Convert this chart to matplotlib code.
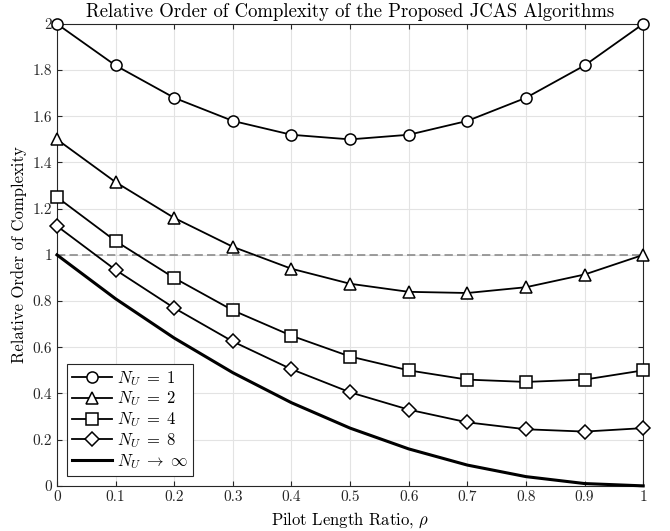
import numpy as np
import matplotlib
matplotlib.use("Agg")
import matplotlib.pyplot as plt

plt.rcParams["font.family"] = ["cmr10", "DejaVu Serif"]
plt.rcParams["mathtext.fontset"] = "cm"
plt.rcParams["axes.unicode_minus"] = False

rho = [0, 0.1, 0.2, 0.3, 0.4, 0.5, 0.6, 0.7, 0.8, 0.9, 1.0]
nu1 = [2.0, 1.82, 1.68, 1.58, 1.52, 1.5, 1.52, 1.58, 1.68, 1.82, 2.0]
nu2 = [1.5, 1.315, 1.16, 1.035, 0.94, 0.875, 0.84, 0.835, 0.86, 0.915, 1.0]
nu4 = [1.25, 1.06, 0.9, 0.76, 0.65, 0.56, 0.5, 0.46, 0.45, 0.46, 0.5]
nu8 = [1.125, 0.935, 0.77, 0.625, 0.505, 0.405, 0.33, 0.275, 0.245, 0.235, 0.25]
nuinf = [1.0, 0.81, 0.64, 0.49, 0.36, 0.25, 0.16, 0.09, 0.04, 0.01, 0.0]

xticks = [0, 0.1, 0.2, 0.3, 0.4, 0.5, 0.6, 0.7, 0.8, 0.9, 1.0]
xticklabels = ["0", "0.1", "0.2", "0.3", "0.4", "0.5", "0.6", "0.7", "0.8", "0.9", "1"]
yticks = [0, 0.2, 0.4, 0.6, 0.8, 1.0, 1.2, 1.4, 1.6, 1.8, 2.0]
yticklabels = ["0", "0.2", "0.4", "0.6", "0.8", "1", "1.2", "1.4", "1.6", "1.8", "2"]

fig = plt.figure(figsize=(6.7, 5.31), dpi=100)
ax = fig.add_axes([0.085, 0.085, 0.875, 0.87])

mk = dict(color="black", lw=1.3, markersize=8, markerfacecolor="white",
          markeredgecolor="black", markeredgewidth=1.1, clip_on=False, zorder=3)
ax.plot(rho, nu1, marker="o", label=r"$N_U\;=\;1$", **mk)
ax.plot(rho, nu2, marker="^", label=r"$N_U\;=\;2$", **mk)
ax.plot(rho, nu4, marker="s", label=r"$N_U\;=\;4$", **mk)
ax.plot(rho, nu8, marker="D", label=r"$N_U\;=\;8$", **dict(mk, markersize=7))
ax.plot(rho, nuinf, color="black", lw=2.2, label=r"$N_U\;\to\;\infty$", clip_on=False, zorder=3)

# reference level
ax.axhline(1.0, color="#8c8c8c", lw=1.2, ls=(0, (5, 2.5)), zorder=2)

ax.set_xlim(0, 1)
ax.set_ylim(0, 2)
ax.set_xticks(xticks)
ax.set_xticklabels(xticklabels)
ax.set_yticks(yticks)
ax.set_yticklabels(yticklabels)
ax.tick_params(direction="in", top=True, right=True, labelsize=11, colors="#262626")
ax.grid(True, color="#e3e3e3", lw=0.8)
ax.set_axisbelow(True)
for s in ax.spines.values():
    s.set_color("#262626")
    s.set_linewidth(0.8)

ax.set_title("Relative Order of Complexity of the Proposed JCAS Algorithms", fontsize=13.5, pad=5)
ax.set_xlabel(r"Pilot Length Ratio, $\rho$", fontsize=12)
ax.set_ylabel("Relative Order of Complexity", fontsize=12)

leg = ax.legend(loc="lower left", fontsize=12, fancybox=False, framealpha=1,
                edgecolor="#262626", handlelength=2.4, borderpad=0.3,
                labelspacing=0.12, handletextpad=0.3, borderaxespad=0.6)
leg.get_frame().set_linewidth(0.8)

fig.savefig("out.png", dpi=100)
